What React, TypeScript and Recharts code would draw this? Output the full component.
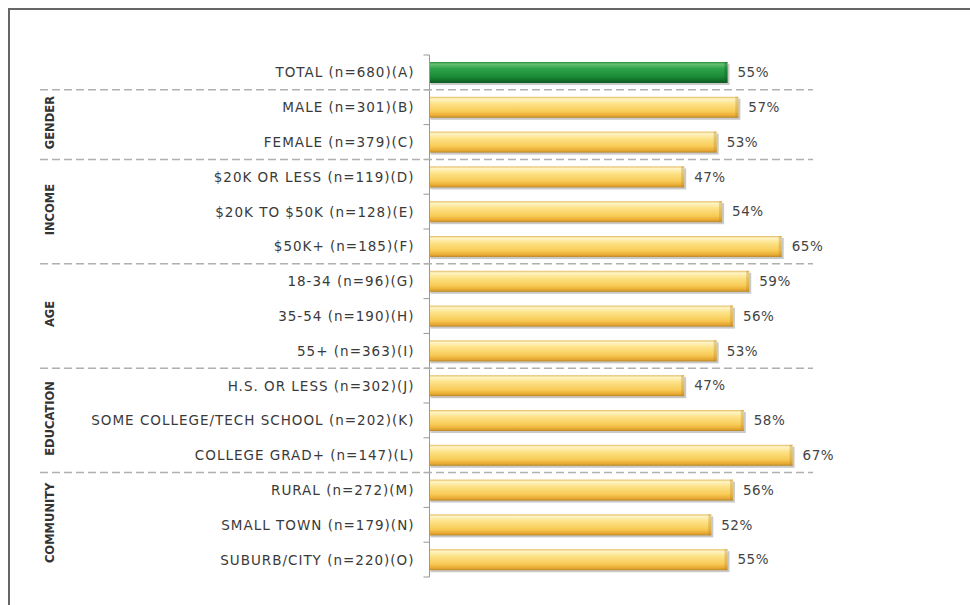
import { Bar, BarChart, LabelList, XAxis, YAxis } from "recharts"

const labels = [
  "TOTAL (n=680)(A)",
  "MALE (n=301)(B)",
  "FEMALE (n=379)(C)",
  "$20K OR LESS (n=119)(D)",
  "$20K TO $50K (n=128)(E)",
  "$50K+ (n=185)(F)",
  "18-34 (n=96)(G)",
  "35-54 (n=190)(H)",
  "55+ (n=363)(I)",
  "H.S. OR LESS (n=302)(J)",
  "SOME COLLEGE/TECH SCHOOL (n=202)(K)",
  "COLLEGE GRAD+ (n=147)(L)",
  "RURAL (n=272)(M)",
  "SMALL TOWN (n=179)(N)",
  "SUBURB/CITY (n=220)(O)",
]
const values = [55, 57, 53, 47, 54, 65, 59, 56, 53, 47, 58, 67, 56, 52, 55]
const groupNames = ["GENDER", "INCOME", "AGE", "EDUCATION", "COMMUNITY"]
const groupSizes = [2, 3, 3, 3, 3]

const data = labels.map((label, i) => ({ label, value: values[i] }))

// index of the first row of every group (TOTAL row comes before them)
const groupStarts: number[] = []
{
  let idx = 1
  for (const size of groupSizes) {
    groupStarts.push(idx)
    idx += size
  }
}

const FONT = "'DejaVu Sans', Verdana, sans-serif"
const AXIS_W = 419.5

const CatTick = (props: any) => {
  const { y, payload, index } = props
  const half = payload?.offset || 17.4
  const top = y - half
  const g = groupStarts.indexOf(index)
  const last = index === labels.length - 1
  return (
    <g>
      <line x1={AXIS_W - 6} x2={AXIS_W} y1={top} y2={top} stroke="#999" />
      {last && <line x1={AXIS_W - 6} x2={AXIS_W} y1={y + half} y2={y + half} stroke="#999" />}
      {g >= 0 && (
        <>
          <line x1={30} x2={803} y1={top} y2={top} stroke="#b0b0b0" strokeWidth={1.5} strokeDasharray="8 4" />
          <text
            x={0}
            y={0}
            transform={`translate(40, ${top + groupSizes[g] * half - 2}) rotate(-90)`}
            textAnchor="middle"
            dominantBaseline="central"
            fontSize={11.5}
            fontWeight="bold"
            fill="#333"
            fontFamily={FONT}
          >
            {groupNames[g]}
          </text>
        </>
      )}
      <text
        x={AXIS_W - 15}
        y={y}
        textAnchor="end"
        dominantBaseline="central"
        fontSize={13.5}
        fill="#3a3a3a"
        fontFamily={FONT}
        style={{ letterSpacing: 1 }}
      >
        {payload.value}
      </text>
    </g>
  )
}

const GlossBar = (props: any) => {
  const { x, y, width, height, index } = props
  const fill = index === 0 ? "url(#greenBar)" : "url(#yellowBar)"
  const edge = index === 0 ? "#0d5a20" : "#b8892a"
  return (
    <g>
      <rect x={x + 1} y={y + 2} width={width + 1} height={height} fill="#888" opacity={0.45} />
      <rect x={x} y={y} width={width} height={height} fill={fill} />
      <rect x={x + width - 3} y={y} width={3} height={height} fill={edge} opacity={0.35} />
    </g>
  )
}

export default function App() {
  return (
    <div
      style={{
        position: "fixed",
        top: 8,
        left: 8,
        borderTop: "2px solid #666",
        borderLeft: "2px solid #666",
        width: 962,
        height: 600,
        boxSizing: "border-box",
        background: "#fff",
      }}
    >
      <BarChart
        width={948}
        height={585}
        data={data}
        layout="vertical"
        barCategoryGap={0}
        margin={{ top: 45, right: 95, bottom: 18, left: 0 }}
      >
        <defs>
          <linearGradient id="yellowBar" x1="0" y1="0" x2="0" y2="1">
            <stop offset="0%" stopColor="#e3bb5c" />
            <stop offset="10%" stopColor="#fff4c6" />
            <stop offset="32%" stopColor="#fde38a" />
            <stop offset="70%" stopColor="#f8cb56" />
            <stop offset="90%" stopColor="#e8a932" />
            <stop offset="100%" stopColor="#b8882a" />
          </linearGradient>
          <linearGradient id="greenBar" x1="0" y1="0" x2="0" y2="1">
            <stop offset="0%" stopColor="#2a8a3a" />
            <stop offset="10%" stopColor="#66c074" />
            <stop offset="32%" stopColor="#2ea249" />
            <stop offset="70%" stopColor="#1a8a37" />
            <stop offset="100%" stopColor="#0c5a20" />
          </linearGradient>
        </defs>
        <XAxis type="number" domain={[0, 80]} hide />
        <YAxis
          type="category"
          dataKey="label"
          width={AXIS_W}
          interval={0}
          tickLine={false}
          axisLine={{ stroke: "#999" }}
          tick={(p: any) => <CatTick {...p} />}
        />
        <Bar dataKey="value" barSize={21} isAnimationActive={false} shape={(p: any) => <GlossBar {...p} />}>
          <LabelList
            dataKey="value"
            position="right"
            offset={10}
            formatter={(v: any) => `${v}%`}
            style={{ fontSize: 13.5, fill: "#444", fontFamily: FONT, letterSpacing: 0.5 }}
          />
        </Bar>
      </BarChart>
    </div>
  )
}
